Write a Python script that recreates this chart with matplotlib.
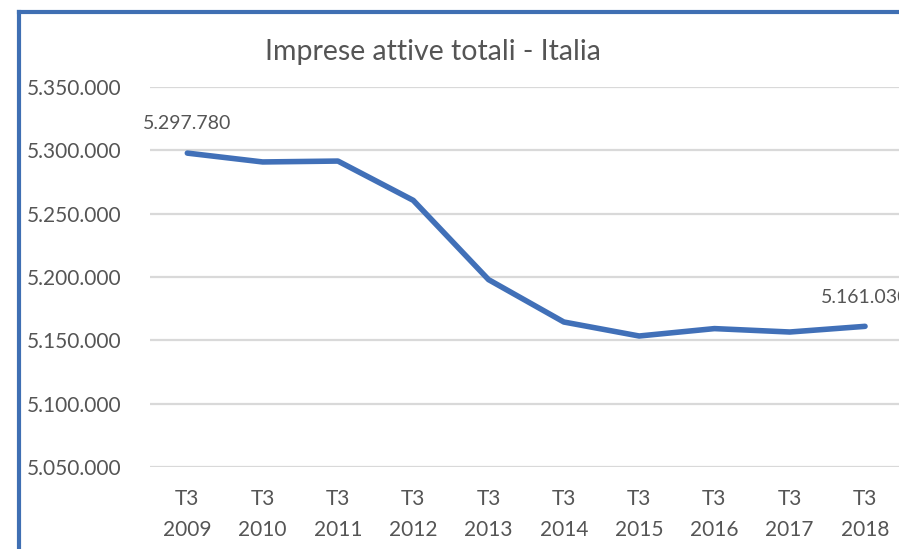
import matplotlib
matplotlib.use('Agg')
import matplotlib.pyplot as plt
from matplotlib.lines import Line2D
from matplotlib.ticker import FuncFormatter, MultipleLocator

# Imprese attive in Italia, terzo trimestre di ogni anno
periodi = ['T3\n2009', 'T3\n2010', 'T3\n2011', 'T3\n2012', 'T3\n2013',
           'T3\n2014', 'T3\n2015', 'T3\n2016', 'T3\n2017', 'T3\n2018']
imprese = [5297780, 5290800, 5291500, 5260500, 5197900,
           5164450, 5153400, 5159240, 5156550, 5161030]
etichette = [0, 9]  # punti con il valore scritto sopra

BLU = '#4170B8'
GRIGIO = '#555555'


def fmt_it(v, pos=None):
    return f"{v:,.0f}".replace(',', '.')


plt.rcParams['font.family'] = ['Lato', 'DejaVu Sans']

fig = plt.figure(figsize=(8.99, 5.49), dpi=100)
ax = fig.add_axes([0.1665, 0.1494, 0.8376, 0.6922])

x = list(range(len(periodi)))
ax.plot(x, imprese, color=BLU, linewidth=4.0, solid_capstyle='round',
        solid_joinstyle='round', zorder=3)

for i in etichette:
    ax.annotate(fmt_it(imprese[i]), (x[i], imprese[i]), xytext=(0, 15),
                textcoords='offset points', ha='center', va='bottom',
                fontsize=14, color=GRIGIO, annotation_clip=False)

ax.set_xlim(-0.5, len(periodi) - 0.5)
ax.set_ylim(5050000, 5350000)
ax.yaxis.set_major_locator(MultipleLocator(50000))
ax.yaxis.set_major_formatter(FuncFormatter(fmt_it))
ax.set_xticks(x)
ax.set_xticklabels(periodi, linespacing=1.7)

ax.grid(axis='y', color='#D9D9D9', linewidth=1.6)
ax.set_axisbelow(True)
for s in ax.spines.values():
    s.set_visible(False)
ax.tick_params(axis='both', length=0, labelsize=15, colors=GRIGIO)
ax.tick_params(axis='y', pad=20)
ax.tick_params(axis='x', pad=16)

fig.text(433 / 899, 1 - 52 / 549, 'Imprese attive totali - Italia',
         ha='center', va='center', fontsize=20.5, color=GRIGIO)

# cornice blu del riquadro
fig.add_artist(Line2D([19 / 899, 1], [1 - 12 / 549, 1 - 12 / 549],
                      color='#3F6FB3', linewidth=3, transform=fig.transFigure))
fig.add_artist(Line2D([19 / 899, 19 / 899], [0, 1 - 12 / 549],
                      color='#3F6FB3', linewidth=3, transform=fig.transFigure))

fig.savefig('out.png', dpi=100)
